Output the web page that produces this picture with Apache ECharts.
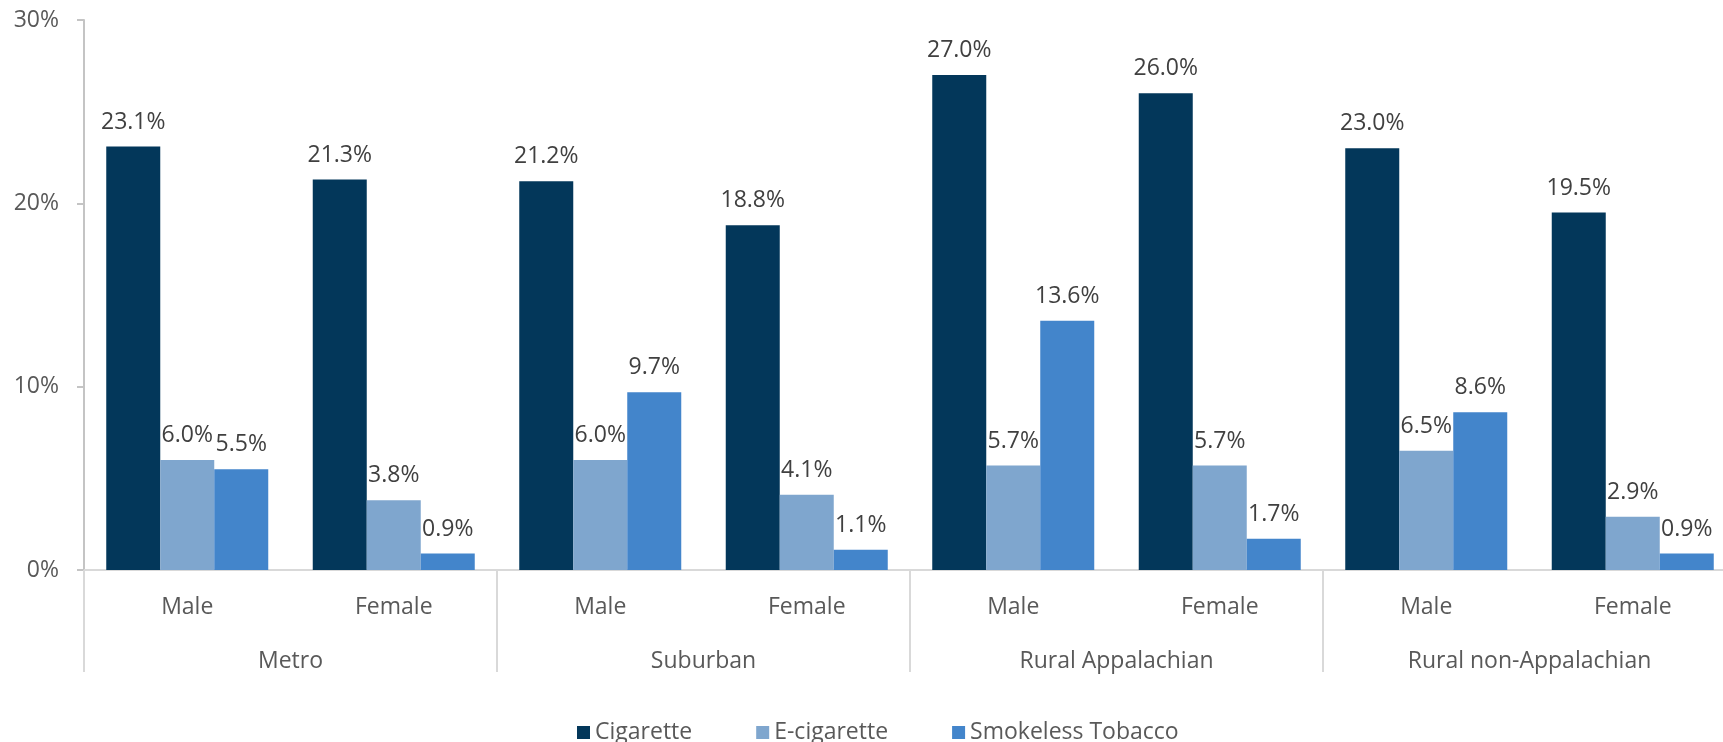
<!DOCTYPE html>
<html>
<head>
<meta charset="utf-8">
<script src="https://cdn.jsdelivr.net/npm/echarts@6/dist/echarts.min.js"></script>
<style>
html,body{margin:0;padding:0;background:#fff;}
#chart{width:1723px;height:742px;}
</style>
</head>
<body>
<div id="chart"></div>
<script>
const subCategories = ['Male', 'Female', 'Male', 'Female', 'Male', 'Female', 'Male', 'Female'];
const groups = ['Metro', 'Suburban', 'Rural Appalachian', 'Rural non-Appalachian'];
const seriesNames = ['Cigarette', 'E-cigarette', 'Smokeless Tobacco'];
const cigarette = [23.1, 21.3, 21.2, 18.8, 27.0, 26.0, 23.0, 19.5];
const eCigarette = [6.0, 3.8, 6.0, 4.1, 5.7, 5.7, 6.5, 2.9];
const smokeless = [5.5, 0.9, 9.7, 1.1, 13.6, 1.7, 8.6, 0.9];
const yTicks = [0, 10, 20, 30];

const colors = ['#03375a', '#7fa6ce', '#4385cb'];
const font = '"Open Sans", "Noto Sans", sans-serif';
const textColor = '#595959';
const gridPos = {left: 84, width: 1652, top: 20, height: 550, containLabel: false, outerBoundsMode: 'none'};

const chart = echarts.init(document.getElementById('chart'));
const values = [cigarette, eCigarette, smokeless];

chart.setOption({
  animation: false,
  textStyle: {fontFamily: font},
  grid: [
    Object.assign({}, gridPos),
    Object.assign({}, gridPos)
  ],
  legend: {
    left: 572,
    top: 716,
    itemWidth: 13,
    itemHeight: 13,
    itemGap: 64,
    icon: 'rect',
    textStyle: {color: textColor, fontSize: 23, fontFamily: font, padding: [0, 0, 0, 0]},
    data: seriesNames
  },
  xAxis: [
    {
      type: 'category',
      gridIndex: 0,
      data: subCategories,
      axisLine: {show: true, lineStyle: {color: '#d9d9d9', width: 2}},
      axisTick: {show: false},
      axisLabel: {color: textColor, fontSize: 23, fontFamily: font, margin: 26, interval: 0}
    },
    {
      type: 'category',
      gridIndex: 1,
      data: groups,
      position: 'bottom',
      axisLine: {show: false},
      axisTick: {show: true, interval: 0, length: 102, lineStyle: {color: '#d9d9d9', width: 2}},
      axisLabel: {color: textColor, fontSize: 23, fontFamily: font, margin: 80, interval: 0}
    }
  ],
  yAxis: [
    {
      type: 'value',
      gridIndex: 0,
      min: yTicks[0],
      max: yTicks[yTicks.length - 1],
      interval: 10,
      axisLine: {show: true, lineStyle: {color: '#c4c4c4', width: 2}},
      axisTick: {show: true, length: 7, lineStyle: {color: '#c4c4c4', width: 2}},
      splitLine: {show: false},
      axisLabel: {color: textColor, fontSize: 23, fontFamily: font, margin: 25, formatter: '{value}%'}
    },
    {
      type: 'value',
      gridIndex: 1,
      min: 0,
      max: 1,
      show: false
    }
  ],
  series: seriesNames.map((name, i) => ({
    name: name,
    type: 'bar',
    xAxisIndex: 0,
    yAxisIndex: 0,
    data: values[i],
    barWidth: 54,
    barGap: '0%',
    itemStyle: {color: colors[i]},
    label: {
      show: true,
      position: 'top',
      distance: 13,
      color: '#404040',
      fontSize: 23,
      fontFamily: font,
      formatter: p => p.value.toFixed(1) + '%'
    }
  }))
});
</script>
</body>
</html>
